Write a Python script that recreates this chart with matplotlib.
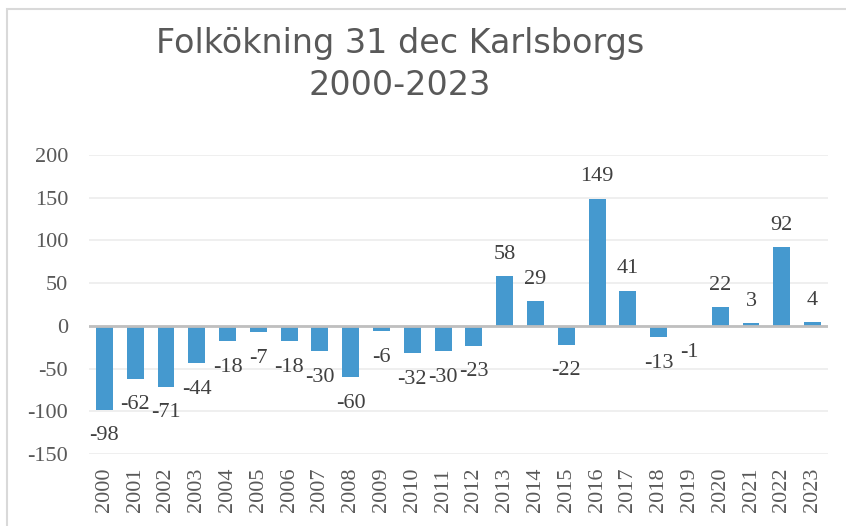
'''

  Folkökning 31 dec Karlsborgs 2000-2023

'''

import numpy as np
from matplotlib import pyplot as plt
from matplotlib.patches import Rectangle

# Data

years = [str(y) for y in range(2000, 2024)]
change = [-98, -62, -71, -44, -18, -7, -18, -30, -60, -6, -32, -30, -23,
          58, 29, -22, 149, 41, -13, -1, 22, 3, 92, 4]
yticks = [-150, -100, -50, 0, 50, 100, 150, 200]

# Figure

fig = plt.figure(figsize=(8.46, 5.26), dpi=100)
# chart border (only top and left fall inside the picture)
fig.patches.append(Rectangle((7/846, -0.1), 1.1, 1 - 9/526 + 0.1, transform=fig.transFigure,
                             fill=False, edgecolor='#d9d9d9', linewidth=1.5))

ax = fig.add_axes([89/846, 1 - 454/526, 739/846, 299/526])
x = np.arange(len(years))
ax.bar(x, change, width=0.55, color='#4599cf', zorder=3)
ax.axhline(0, color='#bfbfbf', linewidth=2, zorder=4)

ax.set_xlim(-0.5, len(years) - 0.5)
ax.set_ylim(-150, 200)
ax.set_yticks(yticks)
ax.set_yticklabels([str(t) for t in yticks])
ax.set_xticks(x)
ax.set_xticklabels(years, rotation=90)
ax.grid(axis='y', color='#ececec', linewidth=1.2, zorder=0)
for s in ax.spines.values():
    s.set_visible(False)
ax.tick_params(axis='both', length=0, labelsize=16, colors='#595959')
ax.tick_params(axis='y', pad=15)
ax.tick_params(axis='x', pad=10)
for lab in ax.get_xticklabels() + ax.get_yticklabels():
    lab.set_fontfamily('Liberation Serif')

# Data labels
for i, v in enumerate(change):
    off = 9 if v >= 0 else -12
    ax.annotate(str(v), (x[i], v), xytext=(0, off), textcoords='offset points',
                ha='center', va='bottom' if v >= 0 else 'top',
                fontsize=16, family='Liberation Serif', color='#404040')

fig.text(400/846, 1 - 95/526, 'Folkökning 31 dec Karlsborgs\n2000-2023', ha='center', va='baseline',
         fontsize=24, family='DejaVu Sans', color='#595959', linespacing=1.35)

plt.savefig('out.png', dpi=100)
